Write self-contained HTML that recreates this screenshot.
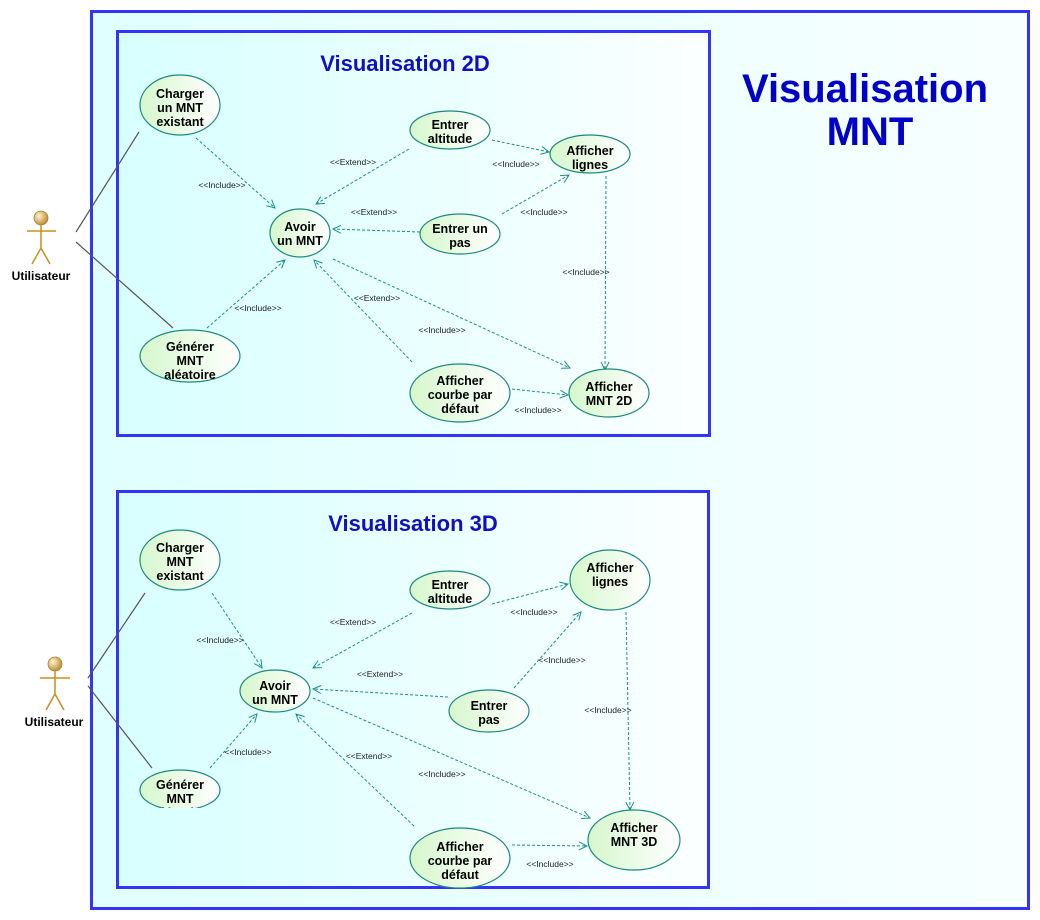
<!DOCTYPE html>
<html><head><meta charset="utf-8"><style>
html,body{margin:0;padding:0;background:#fff;width:1040px;height:920px;overflow:hidden}
svg text{font-family:"Liberation Sans",Arial,sans-serif}
.u{font-weight:bold;font-size:12.5px;fill:#000;text-anchor:middle}
.l{font-size:8.5px;fill:#222;text-anchor:middle}
.e{fill:url(#eg);stroke:#1a8a80;stroke-width:1.2}
.d{stroke:#1a8f88;stroke-width:1;stroke-dasharray:3,2;fill:none;marker-end:url(#ar)}
.a{stroke:#555;stroke-width:1.2}
.ac{stroke:#c8901a;stroke-width:1.5;fill:none}
</style></head><body>
<svg width="1040" height="920" xmlns="http://www.w3.org/2000/svg">
<defs>
<linearGradient id="eg" x1="0" x2="1"><stop offset="0" stop-color="#d6f7cc"/><stop offset="1" stop-color="#ffffff"/></linearGradient>
<linearGradient id="fg" x1="0" x2="1"><stop offset="0" stop-color="#d8ffff"/><stop offset="1" stop-color="#fbffff"/></linearGradient>
<linearGradient id="og" x1="0" x2="1"><stop offset="0" stop-color="#e0ffff"/><stop offset="1" stop-color="#f8ffff"/></linearGradient>
<radialGradient id="hg" cx="0.35" cy="0.35" r="0.7"><stop offset="0" stop-color="#fff3d0"/><stop offset="1" stop-color="#b88a30"/></radialGradient>
<marker id="ar" markerWidth="10" markerHeight="10" refX="9" refY="5" orient="auto" markerUnits="userSpaceOnUse"><path d="M1,1 L9,5 L1,9" fill="none" stroke="#1a8f88" stroke-width="1"/></marker>
</defs>
<rect x="91.5" y="11.5" width="937" height="897" fill="url(#og)" stroke="#3333ff" stroke-width="3"/>
<rect x="117.5" y="31.5" width="592" height="404" fill="url(#fg)" stroke="#3333ff" stroke-width="3"/>
<rect x="117.5" y="491.5" width="591" height="396" fill="url(#fg)" stroke="#3333ff" stroke-width="3"/>
<text x="865" y="102" font-size="40" font-weight="bold" fill="#0000c8" text-anchor="middle">Visualisation</text>
<text x="870" y="145" font-size="40" font-weight="bold" fill="#0000c8" text-anchor="middle">MNT</text>
<text x="405" y="71" font-size="22" font-weight="bold" fill="#1010c0" text-anchor="middle">Visualisation 2D</text>
<text x="413" y="531" font-size="22" font-weight="bold" fill="#1010c0" text-anchor="middle">Visualisation 3D</text>

<!-- actors -->
<g>
<circle cx="41" cy="218" r="7" fill="url(#hg)" stroke="#b08030" stroke-width="0.8"/>
<path class="ac" d="M41,225 V248 M27,231 H56 M41,248 L32,264 M41,248 L50,264"/>
<text x="41" y="280" font-size="12" font-weight="bold" text-anchor="middle">Utilisateur</text>
<circle cx="55" cy="664" r="7" fill="url(#hg)" stroke="#b08030" stroke-width="0.8"/>
<path class="ac" d="M55,671 V694 M40,678 H70 M55,694 L46,710 M55,694 L64,710"/>
<text x="54" y="726" font-size="12" font-weight="bold" text-anchor="middle">Utilisateur</text>
</g>
<line class="a" x1="76" y1="232" x2="139" y2="132"/>
<line class="a" x1="76" y1="242" x2="173" y2="328"/>
<line class="a" x1="88" y1="678" x2="145" y2="593"/>
<line class="a" x1="88" y1="686" x2="152" y2="768"/>

<!-- 2D arrows -->
<line class="d" x1="196" y1="138" x2="275" y2="208"/><text class="l" x="222" y="188">&lt;&lt;Include&gt;&gt;</text>
<line class="d" x1="409" y1="149" x2="316" y2="204"/><text class="l" x="353" y="165">&lt;&lt;Extend&gt;&gt;</text>
<line class="d" x1="420" y1="232" x2="333" y2="229"/><text class="l" x="374" y="215">&lt;&lt;Extend&gt;&gt;</text>
<line class="d" x1="207" y1="328" x2="285" y2="260"/><text class="l" x="258" y="311">&lt;&lt;Include&gt;&gt;</text>
<line class="d" x1="412" y1="362" x2="314" y2="260"/><text class="l" x="377" y="301">&lt;&lt;Extend&gt;&gt;</text>
<line class="d" x1="333" y1="259" x2="570" y2="368"/><text class="l" x="442" y="333">&lt;&lt;Include&gt;&gt;</text>
<line class="d" x1="492" y1="140" x2="549" y2="152"/><text class="l" x="516" y="167">&lt;&lt;Include&gt;&gt;</text>
<line class="d" x1="502" y1="214" x2="569" y2="175"/><text class="l" x="544" y="215">&lt;&lt;Include&gt;&gt;</text>
<line class="d" x1="606" y1="176" x2="605" y2="370"/><text class="l" x="586" y="275">&lt;&lt;Include&gt;&gt;</text>
<line class="d" x1="512" y1="389" x2="568" y2="395"/><text class="l" x="538" y="413">&lt;&lt;Include&gt;&gt;</text>

<!-- 3D arrows -->
<line class="d" x1="212" y1="593" x2="262" y2="668"/><text class="l" x="220" y="643">&lt;&lt;Include&gt;&gt;</text>
<line class="d" x1="412" y1="613" x2="313" y2="668"/><text class="l" x="353" y="625">&lt;&lt;Extend&gt;&gt;</text>
<line class="d" x1="448" y1="697" x2="313" y2="689"/><text class="l" x="380" y="677">&lt;&lt;Extend&gt;&gt;</text>
<line class="d" x1="210" y1="768" x2="257" y2="714"/><text class="l" x="248" y="755">&lt;&lt;Include&gt;&gt;</text>
<line class="d" x1="414" y1="826" x2="296" y2="714"/><text class="l" x="369" y="759">&lt;&lt;Extend&gt;&gt;</text>
<line class="d" x1="313" y1="698" x2="590" y2="818"/><text class="l" x="442" y="777">&lt;&lt;Include&gt;&gt;</text>
<line class="d" x1="492" y1="604" x2="568" y2="584"/><text class="l" x="534" y="615">&lt;&lt;Include&gt;&gt;</text>
<line class="d" x1="514" y1="688" x2="581" y2="612"/><text class="l" x="562" y="663">&lt;&lt;Include&gt;&gt;</text>
<line class="d" x1="626" y1="612" x2="630" y2="810"/><text class="l" x="608" y="713">&lt;&lt;Include&gt;&gt;</text>
<line class="d" x1="512" y1="845" x2="587" y2="846"/><text class="l" x="550" y="867">&lt;&lt;Include&gt;&gt;</text>

<!-- 2D ellipses -->
<ellipse class="e" cx="180" cy="105" rx="40" ry="30"/>
<text class="u" x="180" y="98">Charger</text><text class="u" x="180" y="112">un MNT</text><text class="u" x="180" y="126">existant</text>
<ellipse class="e" cx="450" cy="130" rx="40" ry="19"/>
<text class="u" x="450" y="129">Entrer</text><text class="u" x="450" y="143">altitude</text>
<ellipse class="e" cx="590" cy="154" rx="40" ry="19"/>
<text class="u" x="590" y="155">Afficher</text><text class="u" x="590" y="169">lignes</text>
<ellipse class="e" cx="300" cy="233" rx="30" ry="24"/>
<text class="u" x="300" y="231">Avoir</text><text class="u" x="300" y="245">un MNT</text>
<ellipse class="e" cx="460" cy="234" rx="40" ry="20"/>
<text class="u" x="460" y="233">Entrer un</text><text class="u" x="460" y="247">pas</text>
<ellipse class="e" cx="190" cy="356" rx="50" ry="26"/>
<text class="u" x="190" y="351">Générer</text><text class="u" x="190" y="365">MNT</text><text class="u" x="190" y="379">aléatoire</text>
<ellipse class="e" cx="460" cy="393" rx="50" ry="29"/>
<text class="u" x="460" y="385">Afficher</text><text class="u" x="460" y="399">courbe par</text><text class="u" x="460" y="413">défaut</text>
<ellipse class="e" cx="609" cy="393" rx="40" ry="24"/>
<text class="u" x="609" y="391">Afficher</text><text class="u" x="609" y="405">MNT 2D</text>

<!-- 3D ellipses -->
<ellipse class="e" cx="180" cy="560" rx="40" ry="30"/>
<text class="u" x="180" y="552">Charger</text><text class="u" x="180" y="566">MNT</text><text class="u" x="180" y="580">existant</text>
<ellipse class="e" cx="450" cy="590" rx="40" ry="19"/>
<text class="u" x="450" y="589">Entrer</text><text class="u" x="450" y="603">altitude</text>
<ellipse class="e" cx="610" cy="580" rx="40" ry="30"/>
<text class="u" x="610" y="572">Afficher</text><text class="u" x="610" y="586">lignes</text>
<ellipse class="e" cx="275" cy="691" rx="35" ry="21"/>
<text class="u" x="275" y="690">Avoir</text><text class="u" x="275" y="704">un MNT</text>
<ellipse class="e" cx="489" cy="711" rx="40" ry="21"/>
<text class="u" x="489" y="710">Entrer</text><text class="u" x="489" y="724">pas</text>
<clipPath id="gc"><rect x="130" y="760" width="100" height="48"/></clipPath>
<g clip-path="url(#gc)">
<ellipse class="e" cx="180" cy="790" rx="40" ry="20"/>
<text class="u" x="180" y="789">Générer</text><text class="u" x="180" y="803">MNT</text><text class="u" x="180" y="817">aléatoire</text>
</g>
<ellipse class="e" cx="460" cy="858" rx="50" ry="30"/>
<text class="u" x="460" y="851">Afficher</text><text class="u" x="460" y="865">courbe par</text><text class="u" x="460" y="879">défaut</text>
<ellipse class="e" cx="634" cy="840" rx="46" ry="30"/>
<text class="u" x="634" y="832">Afficher</text><text class="u" x="634" y="846">MNT 3D</text>
</svg>
</body></html>
